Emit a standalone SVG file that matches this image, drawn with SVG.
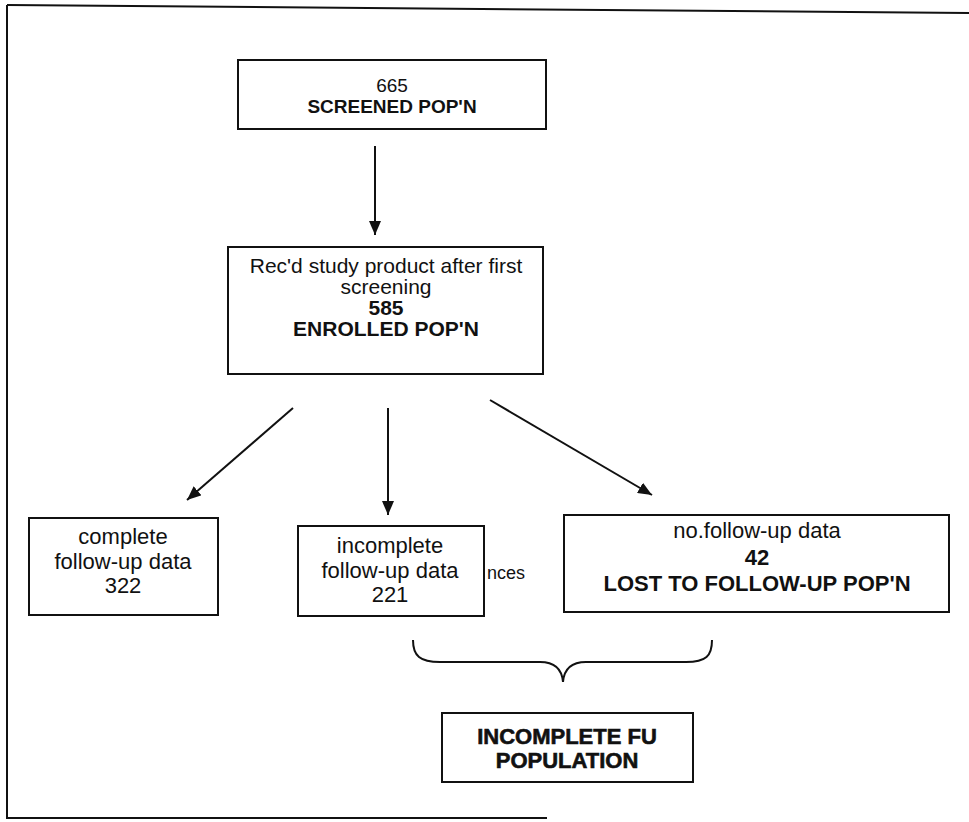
<svg xmlns="http://www.w3.org/2000/svg" width="969" height="822" viewBox="0 0 969 822">
<style>
.box{fill:#fff;stroke:#111;stroke-width:2}
.t{font-family:"Liberation Sans",Arial,sans-serif;font-size:22px;fill:#111;text-anchor:middle}
.b{font-weight:bold}
.heavy{stroke:#111;stroke-width:0.6}
.frame{stroke:#111;stroke-width:2;fill:none}
.conn line,.conn path{stroke:#111;stroke-width:2;fill:none}
</style>
<defs>
<marker id="arr" viewBox="0 0 14 12" refX="14" refY="6" markerWidth="14" markerHeight="12" markerUnits="userSpaceOnUse" orient="auto">
<path d="M0,0 L14,6 L0,12 z" fill="#111"/>
</marker>
</defs>
<rect width="969" height="822" fill="#fff"/>
<g id="frame">
<line class="frame" x1="7" y1="5" x2="969" y2="13"/>
<line class="frame" x1="7" y1="5" x2="7" y2="818"/>
<line class="frame" x1="6" y1="818" x2="547" y2="818"/>
</g>
<g class="conn" id="connectors">
<line x1="375" y1="146" x2="375" y2="235" marker-end="url(#arr)"/>
<line x1="293" y1="408" x2="187" y2="500" marker-end="url(#arr)"/>
<line x1="388" y1="408" x2="388" y2="515" marker-end="url(#arr)"/>
<line x1="490" y1="400" x2="652" y2="495" marker-end="url(#arr)"/>
<path id="brace" d="M413,640 C413,656 420,662 440,662 L540,662 C556,662 562,670 563,682 C564,670 570,662 586,662 L686,662 C706,662 712,656 712,640"/>
</g>
<g id="screened">
<rect class="box" x="238" y="60" width="308" height="69"/>
<text class="t" x="392" y="92" style="font-size:19px">665</text>
<text class="t b" x="392" y="113" style="font-size:19px">SCREENED POP'N</text>
</g>
<g id="enrolled">
<rect class="box" x="228" y="247" width="315" height="127"/>
<text class="t" x="386" y="273" style="font-size:21px">Rec'd study product after first</text>
<text class="t" x="386" y="294" style="font-size:21px">screening</text>
<text class="t b" x="386" y="315" style="font-size:21px">585</text>
<text class="t b" x="386" y="336" style="font-size:21px">ENROLLED POP'N</text>
</g>
<g id="complete">
<rect class="box" x="29" y="518" width="189" height="97"/>
<text class="t" x="123" y="544">complete</text>
<text class="t" x="123" y="569">follow-up data</text>
<text class="t" x="123" y="593">322</text>
</g>
<g id="nces-label">
<text class="t" x="487" y="579" style="text-anchor:start;font-size:18px">nces</text>
</g>
<g id="incomplete">
<rect class="box" x="298" y="526" width="186" height="90"/>
<text class="t" x="390" y="553">incomplete</text>
<text class="t" x="390" y="578">follow-up data</text>
<text class="t" x="390" y="602">221</text>
</g>
<g id="lost">
<rect class="box" x="564" y="515" width="385" height="97"/>
<text class="t" x="757" y="538">no.follow-up data</text>
<text class="t b" x="757" y="565">42</text>
<text class="t b" x="757" y="591">LOST TO FOLLOW-UP POP'N</text>
</g>
<g id="incomplete-fu">
<rect class="box" x="442" y="713" width="251" height="69"/>
<text class="t b heavy" x="567" y="744">INCOMPLETE FU</text>
<text class="t b heavy" x="567" y="768">POPULATION</text>
</g>
</svg>
